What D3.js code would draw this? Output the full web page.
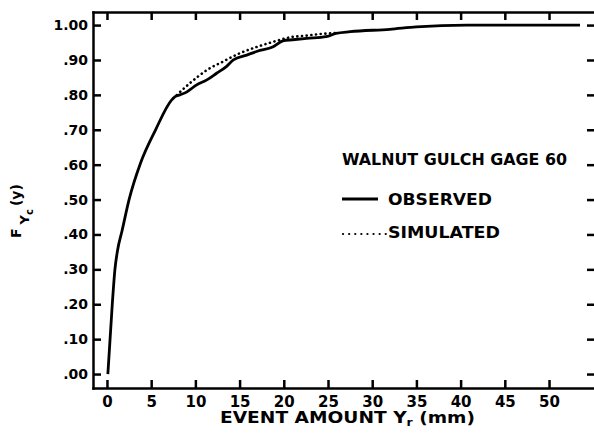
<!DOCTYPE html>
<html>
<head>
<meta charset="utf-8">
<script src="https://cdn.jsdelivr.net/npm/d3@7"></script>
<style>
  body { margin: 0; background: #fff; }
  svg text { font-family: "DejaVu Sans", sans-serif; font-weight: bold; fill: #000; }
  .axis path, .axis line { stroke: #000; stroke-width: 2.5; }
</style>
</head>
<body>
<div id="chart"></div>
<script>
// observed cumulative distribution (event amount in mm, F)
var obsAmount = [0.1, 0.6, 0.9, 1.2, 1.7, 2.5, 3.8, 5.5, 7.3, 7.7, 8.25, 9.0, 9.4, 10.1, 11.3, 12.4, 13.5, 14.3, 15.8, 17.0, 18.8, 19.9, 21.0, 22.6, 24.8, 25.9, 27.5, 32.0, 35.0, 40.7, 53.5]
var obsF      = [0.00, 0.20, 0.30, 0.355, 0.41, 0.50, 0.605, 0.70, 0.785, 0.795, 0.80, 0.808, 0.815, 0.828, 0.843, 0.862, 0.881, 0.90, 0.914, 0.925, 0.938, 0.955, 0.958, 0.962, 0.967, 0.976, 0.981, 0.988, 0.995, 1.00, 1.00]

// simulated distribution (only shows where it leaves the observed one)
var simAmount = [7.5, 9.4, 11.3, 13.1, 15.0, 17.0, 18.8, 20.7, 22.6, 24.4, 25.9]
var simF      = [0.79, 0.834, 0.871, 0.895, 0.919, 0.938, 0.952, 0.965, 0.970, 0.975, 0.977]

var xTicks = [0, 5, 10, 15, 20, 25, 30, 35, 40, 45, 50]
var yTicks = [0, 0.1, 0.2, 0.3, 0.4, 0.5, 0.6, 0.7, 0.8, 0.9, 1.0]

var width = 594
var height = 433
var frameL = 93, frameR = 595, frameT = 12, frameB = 388

var svg = d3.select('#chart').append('svg')
  .attr('width', width)
  .attr('height', height)

var x = d3.scaleLinear().domain([-1.58, 55.2]).range([frameL, frameR])
var y = d3.scaleLinear().domain([-0.040, 1.0375]).range([frameB, frameT])

function yFmt(d) {
  return d == 1 ? '1.00' : d3.format('.2f')(d).slice(1)
}

svg.append('g').attr('class', 'axis')
  .attr('transform', 'translate(0,' + frameB + ')')
  .call(d3.axisBottom(x).tickValues(xTicks).tickSizeInner(-8).tickSizeOuter(0).tickPadding(8))
  .call(g => g.selectAll('text').style('font-size', '15px'))

svg.append('g').attr('class', 'axis')
  .attr('transform', 'translate(' + frameL + ',0)')
  .call(d3.axisLeft(y).tickValues(yTicks).tickFormat(yFmt).tickSizeInner(-8).tickSizeOuter(0).tickPadding(5))
  .call(g => g.selectAll('text').style('font-size', '14px'))

svg.append('g').attr('class', 'axis')
  .attr('transform', 'translate(0,' + frameT + ')')
  .call(d3.axisTop(x).tickValues(xTicks).tickFormat('').tickSizeInner(-8).tickSizeOuter(0))

svg.append('g').attr('class', 'axis')
  .attr('transform', 'translate(' + frameR + ',0)')
  .call(d3.axisRight(y).tickValues(yTicks).tickFormat('').tickSizeInner(-8).tickSizeOuter(0))

svg.selectAll('.axis .domain').attr('stroke-linecap', 'square')

var line = d3.line()
  .x(function(d) { return x(d[0]) })
  .y(function(d) { return y(d[1]) })
  .curve(d3.curveMonotoneX)

// dotted = simulated
svg.append('path')
  .datum(d3.zip(simAmount, simF))
  .attr('d', line)
  .attr('fill', 'none')
  .attr('stroke', '#000')
  .attr('stroke-width', 2.6)
  .attr('stroke-linecap', 'round')
  .attr('stroke-dasharray', '0.1 4.6')

svg.append('path')
  .datum(d3.zip(obsAmount, obsF))
  .attr('d', line)
  .attr('fill', 'none')
  .attr('stroke', '#000')
  .attr('stroke-width', 2.8)

// axis labels
svg.append('text')
  .attr('x', 220).attr('y', 423)
  .attr('textLength', 255).attr('lengthAdjust', 'spacingAndGlyphs')
  .style('font-size', '15px')
  .html('EVENT AMOUNT Y<tspan dy="3" style="font-size:10px">r</tspan><tspan dy="-3"> (mm)</tspan>')

svg.append('text')
  .attr('transform', 'translate(21,238) rotate(-90)')
  .style('font-size', '14px')
  .html('F<tspan dx="4" dy="8" style="font-size:13px">Y</tspan><tspan dy="4" style="font-size:10px">c</tspan><tspan dx="3" dy="-12" style="font-size:14px">(y)</tspan>')

// legend
svg.append('text')
  .attr('x', 342).attr('y', 165)
  .attr('textLength', 225).attr('lengthAdjust', 'spacingAndGlyphs')
  .style('font-size', '15px')
  .text('WALNUT GULCH GAGE 60')

svg.append('line')
  .attr('x1', 342).attr('x2', 378).attr('y1', 199).attr('y2', 199)
  .attr('stroke', '#000').attr('stroke-width', 2.8)

svg.append('text')
  .attr('x', 388).attr('y', 205)
  .attr('textLength', 104).attr('lengthAdjust', 'spacingAndGlyphs')
  .style('font-size', '15px')
  .text('OBSERVED')

svg.append('line')
  .attr('x1', 343).attr('x2', 386).attr('y1', 234).attr('y2', 234)
  .attr('stroke', '#000').attr('stroke-width', 2.2)
  .attr('stroke-linecap', 'round')
  .attr('stroke-dasharray', '0.1 6')

svg.append('text')
  .attr('x', 388).attr('y', 238)
  .attr('textLength', 112).attr('lengthAdjust', 'spacingAndGlyphs')
  .style('font-size', '15px')
  .text('SIMULATED')
</script>
</body>
</html>
